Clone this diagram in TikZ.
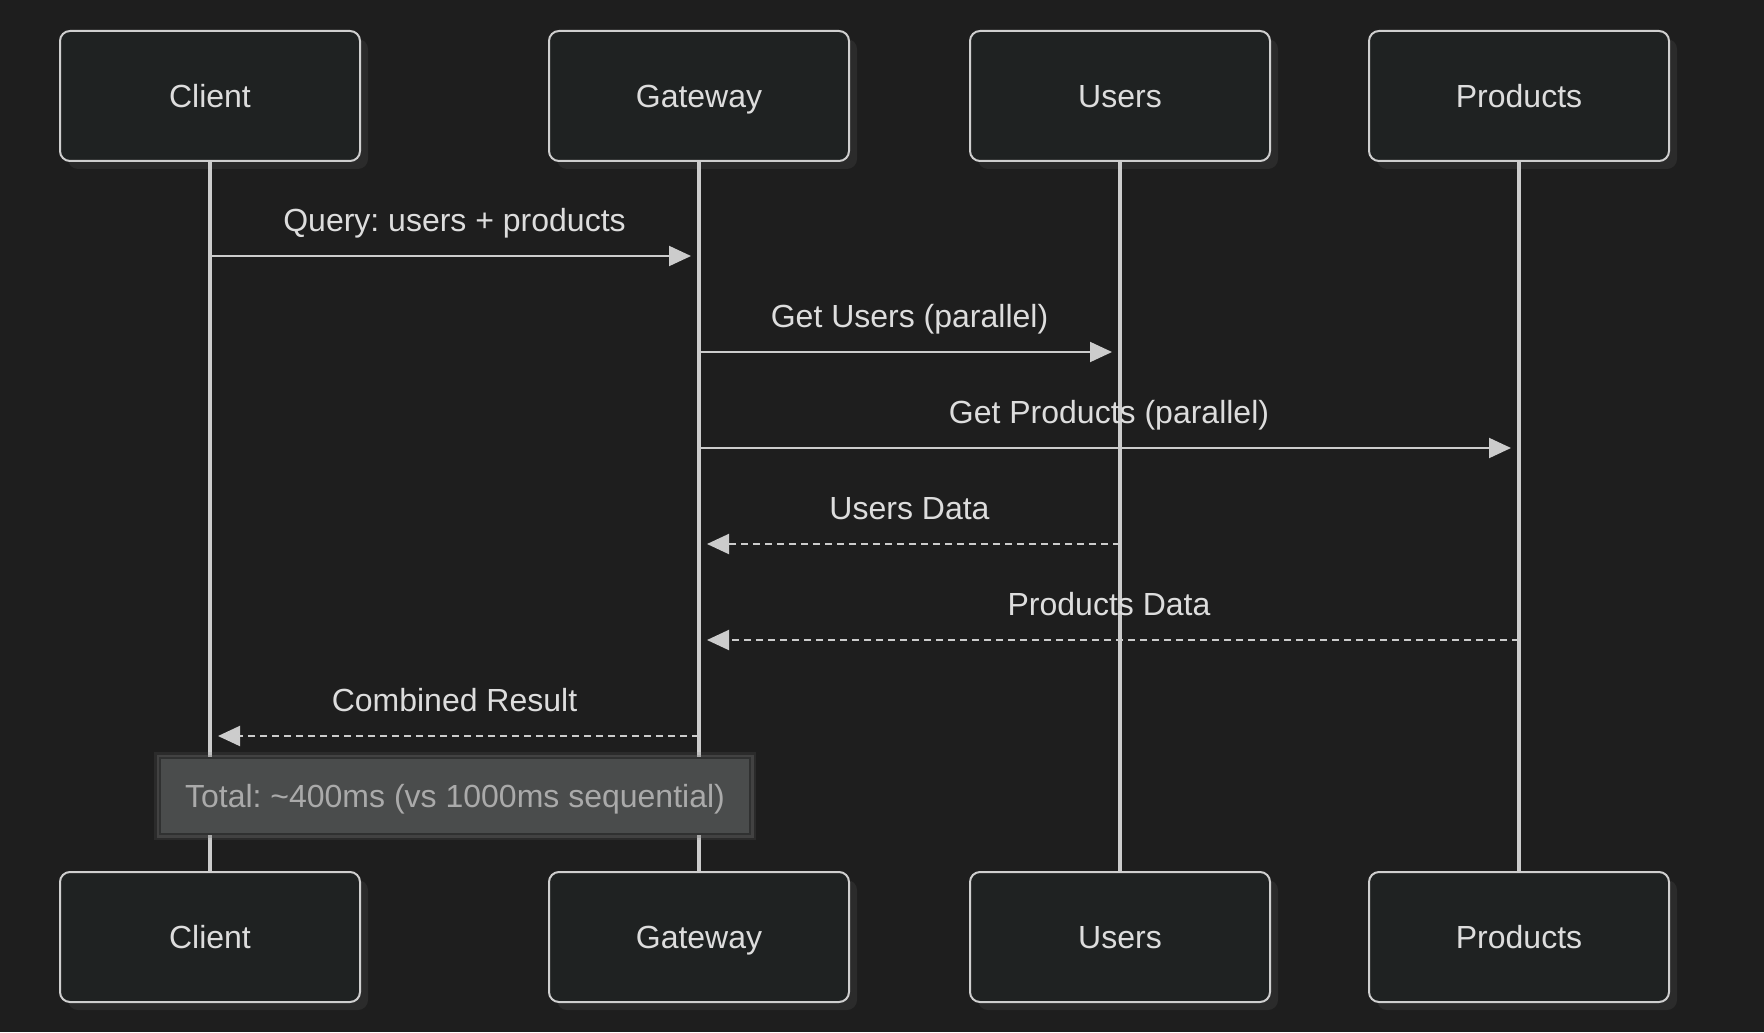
\documentclass[tikz,border=0pt]{standalone}
\usepackage{fontspec}
\setmainfont{Liberation Sans}
\frenchspacing
\usetikzlibrary{arrows.meta,shadows}
\definecolor{bgdark}{HTML}{1E1E1E}
\definecolor{boxfill}{HTML}{1F2222}
\definecolor{boxline}{HTML}{CFCFCF}
\definecolor{boxtext}{HTML}{DDDDDD}
\definecolor{lineclr}{HTML}{CCCCCC}
\definecolor{shadowgray}{HTML}{2B2B2B}
\definecolor{notefill}{HTML}{4A4C4C}
\definecolor{noteline}{HTML}{303131}
\definecolor{notetext}{HTML}{AAAAAA}
\definecolor{glowgray}{HTML}{7A7A7A}
\tikzset{
  ActorStyle/.style = { rectangle, rounded corners=5pt, draw=boxline,
                       line width=1pt, fill=boxfill, text=boxtext,
                       minimum width=150pt, minimum height=65pt,
                       text height=11.5pt, text depth=0pt,
                       font=\fontsize{16}{19}\selectfont,
                       drop shadow={shadow xshift=4pt, shadow yshift=-4pt,
                                    fill=shadowgray, opacity=1} },
  LifeStyle/.style = { draw=lineclr, line width=1.6pt },
  MsgStyle/.style = { draw=lineclr, line width=1pt,
                      -{Triangle[length=11pt,width=10pt]}, shorten >=4pt },
  ReplyStyle/.style = { MsgStyle, dash pattern=on 3.5pt off 2.5pt },
  LabelStyle/.style = { text=boxtext, font=\fontsize{16}{19}\selectfont,
                        anchor=base, yshift=12.5pt, inner sep=0pt },
  NoteStyle/.style = { rectangle, draw=noteline, line width=1pt,
                       fill=notefill, text=notetext,
                       minimum width=295pt, minimum height=38pt,
                       text height=11.5pt, text depth=0pt,
                       font=\fontsize{16}{19}\selectfont,
                       preaction={draw=glowgray, line width=6pt, opacity=.15},
                       preaction={draw=glowgray, line width=3.5pt, opacity=.3} }
}
\begin{document}
\begin{tikzpicture}[x=0.5pt,y=-0.5pt]
  \fill[bgdark] (0,0) rectangle (1764,1032);
  \useasboundingbox (0,0) rectangle (1764,1032);

  % participants
  \node[ActorStyle] (clientT)   at (210,96)  {Client};
  \node[ActorStyle] (gatewayT)  at (699,96)  {Gateway};
  \node[ActorStyle] (usersT)    at (1120,96) {Users};
  \node[ActorStyle] (productsT) at (1519,96) {Products};

  \node[ActorStyle] (clientB)   at (210,937)  {Client};
  \node[ActorStyle] (gatewayB)  at (699,937)  {Gateway};
  \node[ActorStyle] (usersB)    at (1120,937) {Users};
  \node[ActorStyle] (productsB) at (1519,937) {Products};

  % lifelines
  \draw[LifeStyle] (clientT) -- (clientB);
  \draw[LifeStyle] (gatewayT) -- (gatewayB);
  \draw[LifeStyle] (usersT) -- (usersB);
  \draw[LifeStyle] (productsT) -- (productsB);

  % messages
  \draw[MsgStyle] (clientT |- 0,256) --
    node[LabelStyle, midway] {Query: users + products} (gatewayT |- 0,256);
  \draw[MsgStyle] (gatewayT |- 0,352) --
    node[LabelStyle, midway] {Get Users (parallel)} (usersT |- 0,352);
  \draw[MsgStyle] (gatewayT |- 0,448) --
    node[LabelStyle, midway] {Get Products (parallel)} (productsT |- 0,448);

  \draw[ReplyStyle] (usersT |- 0,544) --
    node[LabelStyle, midway] {Users Data} (gatewayT |- 0,544);
  \draw[ReplyStyle] (productsT |- 0,640) --
    node[LabelStyle, midway] {Products Data} (gatewayT |- 0,640);
  \draw[ReplyStyle] (gatewayT |- 0,736) --
    node[LabelStyle, midway] {Combined Result} (clientT |- 0,736);

  % note
  \node[NoteStyle] (note) at (455,796) {Total: \textasciitilde400ms (vs 1000ms sequential)};
\end{tikzpicture}
\end{document}
